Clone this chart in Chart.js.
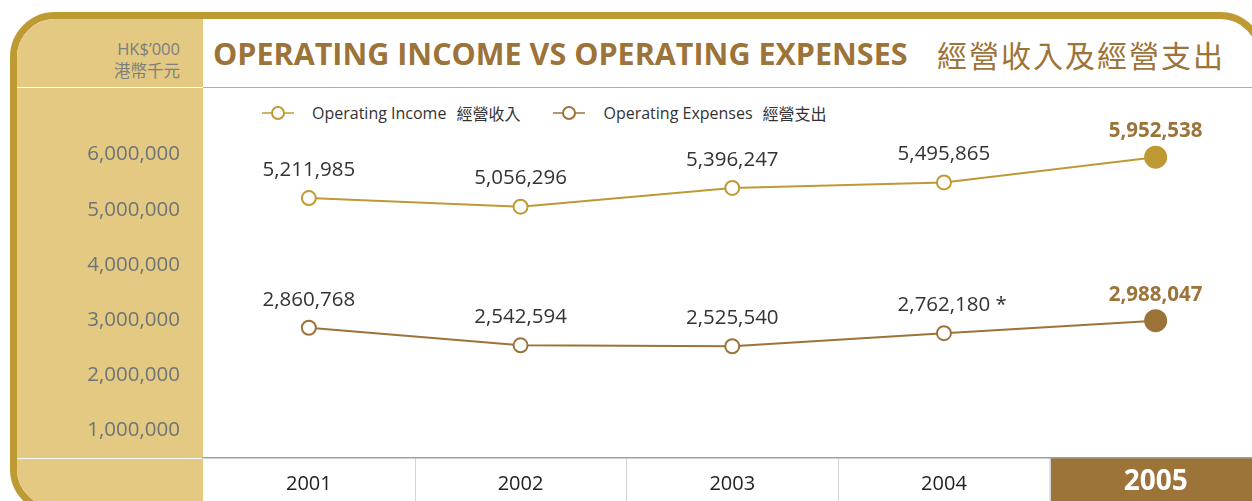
<!DOCTYPE html>
<html>
<head>
<meta charset="utf-8">
<script src="https://cdn.jsdelivr.net/npm/chart.js@4.4.1/dist/chart.umd.min.js"></script>
<style>
  html { overflow: hidden; }
  html, body { margin: 0; padding: 0; }
  body { width: 1300px; height: 501px; position: relative; background: #fff; font-family: "Open Sans", "Noto Sans CJK TC", sans-serif; }
  .frame { position: absolute; left: 10px; top: 12px; width: 1255px; height: 502px; box-sizing: border-box; border: 7px solid #be9a32; border-radius: 45px; overflow: hidden; background: #fff; }
  .side { position: absolute; left: 0; top: 0; width: 186px; height: 100%; background: #e3c982; }
  .rule { position: absolute; height: 1px; }
  .unit { position: absolute; left: 17px; width: 163px; text-align: right; color: #7b7f80; font-size: 16.5px; line-height: 21px; white-space: nowrap; }
  .title { position: absolute; top: 36px; left: 213px; color: #9c7339; font-weight: 700; font-size: 30.5px; line-height: 34px; white-space: nowrap; }
  .title-zh { position: absolute; top: 36px; left: 937px; color: #9c7339; font-family: "Noto Sans CJK TC", sans-serif; font-size: 30px; line-height: 36px; letter-spacing: 2px; white-space: nowrap; }
  .legend { position: absolute; top: 102px; left: 262px; font-size: 16px; line-height: 22px; color: #333; white-space: nowrap; display: flex; align-items: center; }
  .legend svg { margin-right: 18px; }
  .legend .zh { font-family: "Noto Sans CJK TC", sans-serif; margin-left: 10px; }
  .legend .item { display: flex; align-items: center; margin-right: 33px; }
  #wrap { position: absolute; left: 0; top: 0; width: 1274px; height: 501px; }
</style>
</head>
<body>
<div class="frame">
  <div class="side"></div>
</div>
<div class="rule" style="left:17px; top:87px; width:186px; background:#fff;"></div>
<div class="rule" style="left:203px; top:87px; width:1060px; background:#a9afb1;"></div>
<div class="rule" style="left:17px; top:458px; width:186px; background:#fff;"></div>
<div class="unit" style="top:38px;">HK$’000</div>
<div class="unit" style="top:60px; font-family:'Noto Sans CJK TC', sans-serif;">港幣千元</div>
<div class="title">OPERATING INCOME VS OPERATING EXPENSES</div>
<div class="title-zh">經營收入及經營支出</div>
<div class="legend">
  <div class="item">
    <svg width="32" height="16"><line x1="0" y1="8" x2="32" y2="8" stroke="#bf9a34" stroke-width="1.5"/><circle cx="16" cy="8" r="6" fill="#fff" stroke="#bf9a34" stroke-width="2"/></svg>
    <span>Operating Income</span><span class="zh">經營收入</span>
  </div>
  <div class="item">
    <svg width="32" height="16"><line x1="0" y1="8" x2="32" y2="8" stroke="#9c7339" stroke-width="1.5"/><circle cx="16" cy="8" r="6" fill="#fff" stroke="#9c7339" stroke-width="2"/></svg>
    <span>Operating Expenses</span><span class="zh">經營支出</span>
  </div>
</div>
<div id="wrap"><canvas id="chart"></canvas></div>

<script>
// data (HK$'000)
const years = ["2001", "2002", "2003", "2004", "2005"];
const incomeValues = [5211985, 5056296, 5396247, 5495865, 5952538];
const expenseValues = [2860768, 2542594, 2525540, 2762180, 2988047];
const expenseNotes = ["", "", "", " *", ""];
const incomeNotes = ["", "", "", "", ""];
const yTickValues = [1000000, 2000000, 3000000, 4000000, 5000000, 6000000];

const GOLD = "#bf9a34";
const BROWN = "#9c7339";
const LAST = years.length - 1;

const fmt = v => v.toLocaleString("en-US");

// brown cell for latest year + column dividers under the axis
const cellsPlugin = {
    id: "cells",
    beforeDraw(chart) {
        const { ctx, chartArea, scales: { x } } = chart;
        const half = (x.getPixelForValue(1) - x.getPixelForValue(0)) / 2;
        ctx.save();
        ctx.fillStyle = BROWN;
        ctx.fillRect(x.getPixelForValue(LAST) - half, chartArea.bottom, chart.width, chart.height - chartArea.bottom);
        ctx.strokeStyle = "#d2d5d5";
        ctx.lineWidth = 1;
        for (let i = 0; i < LAST; i++) {
            const px = Math.round(x.getPixelForValue(i) + half) + 0.5;
            ctx.beginPath();
            ctx.moveTo(px, chartArea.bottom);
            ctx.lineTo(px, chart.height);
            ctx.stroke();
        }
        ctx.restore();
    }
};

// value labels over the points
const valueLabels = {
    id: "valueLabels",
    afterDatasetsDraw(chart) {
        const { ctx } = chart;
        ctx.save();
        ctx.textBaseline = "middle";
        chart.data.datasets.forEach((ds, di) => {
            const meta = chart.getDatasetMeta(di);
            meta.data.forEach((pt, i) => {
                const isLast = i === LAST;
                const txt = fmt(ds.data[i]);
                ctx.font = (isLast ? "bold " : "") + "20.5px 'Open Sans'";
                ctx.fillStyle = isLast ? BROWN : "#333";
                ctx.textAlign = "center";
                const y = pt.y - (isLast ? 26 : 28);
                ctx.fillText(txt, pt.x, y);
                if (ds.notes[i]) {
                    ctx.textAlign = "left";
                    ctx.fillText(ds.notes[i], pt.x + ctx.measureText(txt).width / 2, y);
                }
            });
        });
        ctx.restore();
    }
};

new Chart(document.getElementById("chart"), {
    type: "line",
    data: {
        labels: years,
        datasets: [
            {
                label: "Operating Income 經營收入",
                data: incomeValues,
                notes: incomeNotes,
                borderColor: GOLD,
                pointBorderColor: GOLD,
                pointBackgroundColor: c => c.dataIndex === LAST ? GOLD : "#fff",
                pointRadius: c => c.dataIndex === LAST ? 10.5 : 7,
                pointBorderWidth: 2,
                borderWidth: 2,
                tension: 0,
                clip: false
            },
            {
                label: "Operating Expenses 經營支出",
                data: expenseValues,
                notes: expenseNotes,
                borderColor: BROWN,
                pointBorderColor: BROWN,
                pointBackgroundColor: c => c.dataIndex === LAST ? BROWN : "#fff",
                pointRadius: c => c.dataIndex === LAST ? 10.5 : 7,
                pointBorderWidth: 2,
                borderWidth: 2,
                tension: 0,
                clip: false
            }
        ]
    },
    options: {
        responsive: true,
        maintainAspectRatio: false,
        animation: false,
        devicePixelRatio: 1,
        layout: { padding: { left: 0, top: 127, right: 0, bottom: 0 } },
        plugins: { legend: { display: false }, tooltip: { enabled: false } },
        scales: {
            x: {
                offset: true,
                grid: { display: false, drawTicks: false },
                border: { display: true, color: "#9aa3a6", width: 1.5 },
                ticks: {
                    padding: 14,
                    color: c => c.index === LAST ? "#fff" : "#222",
                    font: c => c.index === LAST
                        ? { family: "'Open Sans'", size: 28, weight: "bold", lineHeight: 0.72 }
                        : { family: "'Open Sans'", size: 20 }
                },
                afterFit: s => { s.height = 43; s.paddingLeft = 0; s.paddingRight = 0; }
            },
            y: {
                min: 500000,
                max: 6500000,
                grid: { display: false, drawTicks: false },
                border: { display: false },
                afterBuildTicks: s => { s.ticks = yTickValues.map(v => ({ value: v })); },
                ticks: {
                    padding: 23,
                    color: "#6e7477",
                    font: { family: "'Open Sans'", size: 20.5 },
                    callback: v => fmt(v)
                },
                afterFit: s => { s.width = 203; }
            }
        }
    },
    plugins: [cellsPlugin, valueLabels]
});
</script>
</body>
</html>
